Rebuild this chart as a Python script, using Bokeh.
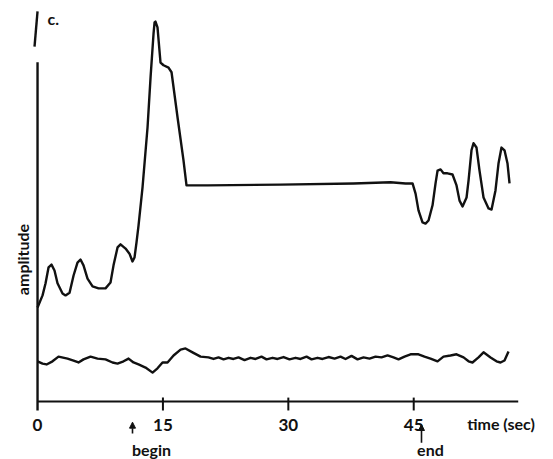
from bokeh.plotting import figure
from bokeh.models import Range1d, Arrow, NormalHead
from bokeh.core.properties import value
from bokeh.embed import file_html
from bokeh.resources import INLINE
import math

# upper trace (time in sec, amplitude in arbitrary units)
upper_t = [0.00, 0.60, 0.96, 1.32, 1.67, 2.03, 2.39, 2.99, 3.35, 3.83, 4.31, 4.78,
           5.14, 5.50, 5.98, 6.58, 7.30, 8.13, 8.73, 9.09, 9.57, 9.93, 10.53, 11.00,
           11.36, 11.60, 11.84, 12.08, 12.56, 13.16, 13.52, 13.88, 14.00, 14.11, 14.35,
           14.71, 15.07, 15.67, 16.03, 16.75, 17.46, 17.82, 20.33, 29.07, 37.80, 42.22,
           44.02, 44.86, 45.22, 45.57, 46.05, 46.41, 46.77, 47.25, 47.61, 47.85, 48.21,
           48.56, 49.04, 49.64, 50.12, 50.48, 50.84, 51.32, 51.56, 51.91, 52.15, 52.51,
           52.87, 53.35, 53.95, 54.31, 54.78, 55.14, 55.50, 55.86, 56.22, 56.46]
upper_amp = [24.1, 27.2, 30.3, 34.4, 35.1, 33.6, 30.3, 27.7, 27.2, 27.9, 32.3, 35.6,
             36.4, 34.9, 31.5, 29.5, 29.0, 29.0, 30.5, 34.9, 39.5, 40.3, 39.2, 37.9,
             35.9, 36.9, 40.8, 45.1, 54.9, 70.3, 83.1, 94.4, 97.2, 97.4, 95.9,
             86.9, 86.2, 85.6, 84.4, 72.8, 61.8, 55.4, 55.4, 55.6, 55.9, 56.2,
             55.9, 55.9, 53.3, 49.0, 45.9, 45.6, 46.4, 50.3, 55.9, 59.2, 59.5,
             58.5, 58.5, 58.2, 55.4, 51.5, 50.0, 52.3, 56.7, 64.4, 66.2, 65.1,
             59.2, 52.3, 49.5, 49.2, 54.1, 61.0, 65.1, 64.4, 61.0, 55.9]

# lower trace
lower_t = [0.00, 0.60, 1.08, 1.79, 2.51, 3.59, 4.31, 4.90, 5.50, 6.34, 7.18, 8.13,
           8.97, 9.57, 10.29, 10.89, 11.48, 12.08, 12.92, 13.76, 14.35, 14.95, 15.55,
           16.27, 17.11, 17.70, 18.54, 19.50, 20.45, 21.05, 21.65, 22.25, 22.85, 23.44,
           24.04, 24.76, 25.48, 26.08, 26.79, 27.39, 28.11, 28.71, 29.43, 30.14, 30.86,
           31.46, 32.18, 32.78, 33.49, 34.09, 34.81, 35.53, 36.24, 36.84, 37.56, 38.28,
           39.00, 39.71, 40.43, 41.15, 41.87, 42.58, 43.18, 43.90, 44.62, 45.57, 46.29,
           47.01, 47.85, 48.56, 49.40, 50.12, 50.96, 51.56, 52.03, 52.75, 53.35, 54.19,
           54.90, 55.38, 55.86, 56.34]
lower_amp = [10.3, 9.7, 9.5, 10.3, 11.5, 11.0, 10.5, 10.0, 10.8, 11.5, 11.0, 10.8,
             10.0, 9.7, 10.3, 11.0, 10.0, 9.5, 8.7, 7.4, 8.5, 10.0, 10.0,
             11.8, 13.3, 13.6, 12.6, 11.5, 11.3, 10.9, 11.3, 10.8, 11.2, 10.9,
             11.3, 10.6, 11.2, 10.9, 11.5, 10.8, 11.2, 10.9, 11.4, 10.8, 11.2,
             10.9, 11.5, 10.8, 11.2, 10.9, 11.4, 11.0, 11.5, 10.9, 11.7, 10.8,
             11.3, 11.0, 11.5, 11.3, 11.8, 11.3, 10.8, 11.5, 12.1, 12.1, 11.5,
             11.0, 10.3, 11.5, 11.8, 12.1, 11.3, 10.3, 10.0, 11.3, 12.6, 11.3,
             10.3, 10.0, 10.5, 12.8]

ticks = [0, 15, 30, 45]
tick_labels = ["0", "15", "30", "45"]
begin_t = 11.36
end_t = 45.93

FONT = "Lato"
INK = "#111111"

# the frame fills the whole canvas; axes and labels are drawn as glyphs
p = figure(width=553, height=459, output_backend="svg", toolbar_location=None,
           x_range=Range1d(-4.43, 61.72), y_range=Range1d(-14.87, 102.8),
           x_axis_location=None, y_axis_location=None,
           min_border=0, min_border_left=0, min_border_right=0,
           min_border_top=0, min_border_bottom=0)
p.outline_line_color = None
p.grid.visible = False
p.background_fill_color = "white"
p.border_fill_color = "white"

# axes
p.segment(x0=[0], y0=[0], x1=[57.5], y1=[0], line_color=INK, line_width=2.2)
p.segment(x0=[0], y0=[-2.3], x1=[0], y1=[87], line_color=INK, line_width=2.4)
p.segment(x0=[0], y0=[100], x1=[-0.36], y1=[91], line_color=INK, line_width=2.4)
p.segment(x0=ticks[1:], y0=[1] * 3, x1=ticks[1:], y1=[-2.3] * 3,
          line_color=INK, line_width=2)

p.line(upper_t, upper_amp, line_color=INK, line_width=2.4, line_join="round")
p.line(lower_t, lower_amp, line_color=INK, line_width=2.4, line_join="round")

def txt(xs, ys, texts, size, angle=0.0, align="center"):
    p.text(x=xs, y=ys, text=texts, angle=angle, text_font=value(FONT),
           text_font_style="bold", text_font_size=size, text_color=INK,
           text_align=align, text_baseline="middle")

txt(ticks, [-6.1] * 4, tick_labels, "17px")
txt([1.2], [98.2], ["c."], "16px", align="left")
txt([-1.8], [36.4], ["amplitude"], "16px", angle=math.pi / 2)
txt([51.4], [-5.6], ["time (sec)"], "16px", align="left")
txt([13.64], [-12.2], ["begin"], "16px")
txt([47.0], [-12.3], ["end"], "16px")

p.add_layout(Arrow(x_start=begin_t, y_start=-8.2, x_end=begin_t, y_end=-5.3,
                   line_color=INK, line_width=1.6,
                   end=NormalHead(size=6, fill_color=INK, line_color=INK)))
p.add_layout(Arrow(x_start=end_t, y_start=-10.6, x_end=end_t, y_end=-5.9,
                   line_color=INK, line_width=1.6,
                   end=NormalHead(size=6, fill_color=INK, line_color=INK)))

open("out.html", "w").write(file_html(p, INLINE))
